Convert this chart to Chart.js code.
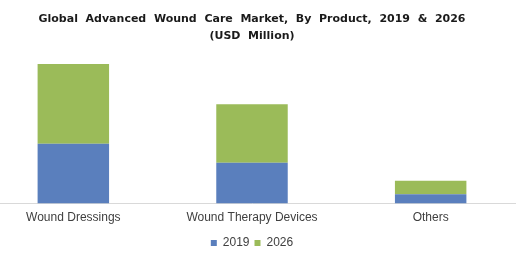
<!DOCTYPE html>
<html>
<head>
<meta charset="utf-8">
<script src="https://cdn.jsdelivr.net/npm/chart.js@4"></script>
<style>
  html, body { margin: 0; padding: 0; background: #fff; overflow: hidden; }
  #wrap { position: absolute; left: -16px; top: 0; width: 536px; height: 260px; }
</style>
</head>
<body>
<div id="wrap"><canvas id="c"></canvas></div>
<script>
// values, USD Million
const categories = ["Wound Dressings", "Wound Therapy Devices", "Others"];
const values2019 = [6000, 4100, 930];
const values2026 = [8000, 5860, 1370];
const seriesNames = ["2019", "2026"];

const blue  = "#5a7fbd";
const green = "#9bbb59";

new Chart(document.getElementById("c"), {
  type: "bar",
  data: {
    labels: categories,
    datasets: [
      { label: seriesNames[0], data: values2019, backgroundColor: blue },
      { label: seriesNames[1], data: values2026, backgroundColor: green },
    ]
  },
  options: {
    responsive: true,
    maintainAspectRatio: false,
    animation: false,
    barPercentage: 0.4,
    categoryPercentage: 1,
    layout: { padding: { top: 0, bottom: 1, left: 0, right: 0 } },
    plugins: {
      title: {
        display: true,
        text: ["Global  Advanced  Wound  Care  Market,  By  Product,  2019  &  2026", "(USD  Million)"],
        color: "#1a1a1a",
        font: { family: "DejaVu Sans", size: 11, weight: "bold", lineHeight: 1.5 },
        padding: { top: 11, bottom: 0 },
      },
      legend: {
        position: "bottom",
        labels: {
          color: "#404040",
          font: { family: "Liberation Sans", size: 12 },
          boxWidth: 6, boxHeight: 6,
          padding: 5,
        }
      },
      tooltip: { enabled: false },
    },
    scales: {
      x: {
        stacked: true,
        grid: { display: false, drawTicks: false },
        border: { display: true, color: "#d9d9d9", width: 1 },
        ticks: { color: "#404040", font: { family: "Liberation Sans", size: 12 }, padding: 7 },
      },
      y: {
        stacked: true,
        display: false,
        min: 0,
        max: 16000,
      }
    }
  }
});
</script>
</body>
</html>
